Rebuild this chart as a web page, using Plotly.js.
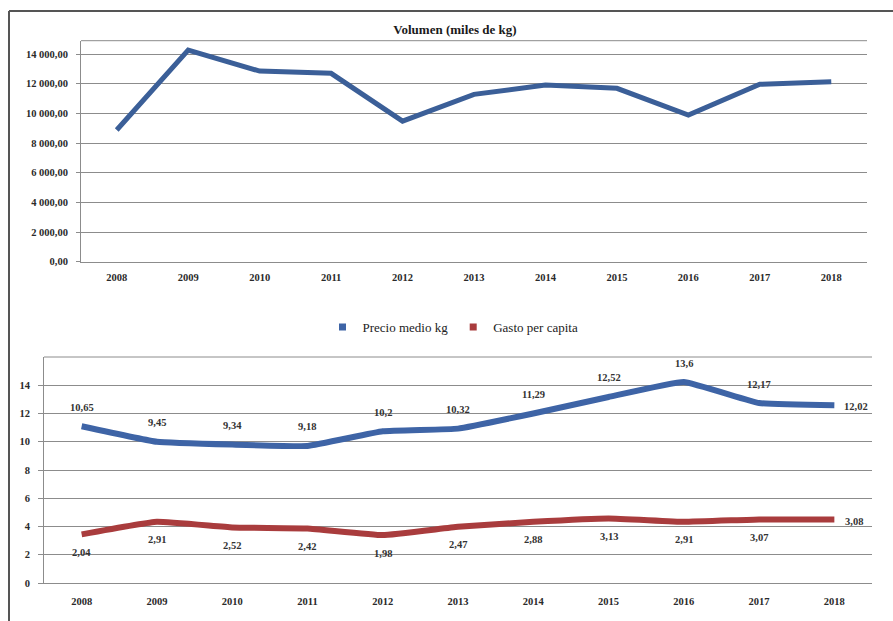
<!DOCTYPE html>
<html>
<head>
<meta charset="utf-8">
<script src="https://cdn.plot.ly/plotly-3.0.1.min.js"></script>
<style>
  html, body { margin: 0; padding: 0; background: #ffffff; }
  #chart { width: 893px; height: 621px; }
</style>
</head>
<body>
<div id="chart"></div>
<script>
// ---- Data ----
const years = ['2008','2009','2010','2011','2012','2013','2014','2015','2016','2017','2018'];
const volumen = [8880, 14270, 12850, 12700, 9480, 11280, 11910, 11690, 9890, 11960, 12130];
const precio = [11.1, 10.0, 9.8, 9.7, 10.74, 10.93, 12.0, 13.17, 14.23, 12.74, 12.58];
const gasto = [3.44, 4.33, 3.93, 3.86, 3.39, 3.98, 4.33, 4.57, 4.33, 4.5, 4.5];
const precioLabels = ['10,65','9,45','9,34','9,18','10,2','10,32','11,29','12,52','13,6','12,17','12,02'];
const gastoLabels = ['2,04','2,91','2,52','2,42','1,98','2,47','2,88','3,13','2,91','3,07','3,08'];
const volTicks = [0, 2000, 4000, 6000, 8000, 10000, 12000, 14000];
const bottomTicks = [0, 2, 4, 6, 8, 10, 12, 14];
const titleTop = 'Volumen (miles de kg)';
const seriesNames = ['Precio medio kg', 'Gasto per capita'];

// ---- Styles ----
const W = 893, H = 621;
const serif = 'Liberation Serif, Times New Roman, serif';
const blueTop = '#3b5f98';
const blue = '#3e64a6';
const red = '#a93c3d';
const grid = '#8c8c8c';
const px = v => v / W;
const py = v => 1 - v / H;

const traces = [
  { type: 'scatter', mode: 'lines', x: years, y: volumen, xaxis: 'x', yaxis: 'y',
    line: { color: blueTop, width: 5 }, showlegend: false, hoverinfo: 'skip' },
  { type: 'scatter', mode: 'lines', x: years, y: precio, xaxis: 'x2', yaxis: 'y2',
    line: { color: blue, width: 6, shape: 'spline', smoothing: 0.3 }, showlegend: false, hoverinfo: 'skip' },
  { type: 'scatter', mode: 'lines', x: years, y: gasto, xaxis: 'x2', yaxis: 'y2',
    line: { color: red, width: 6, shape: 'spline', smoothing: 0.3 }, showlegend: false, hoverinfo: 'skip' },
  { type: 'scatter', mode: 'markers', x: [null], y: [null], xaxis: 'x2', yaxis: 'y2', name: seriesNames[0],
    marker: { symbol: 'square', size: 7, color: blue } },
  { type: 'scatter', mode: 'markers', x: [null], y: [null], xaxis: 'x2', yaxis: 'y2', name: seriesNames[1],
    marker: { symbol: 'square', size: 7, color: red } }
];

const annotations = [];
for (let i = 0; i < years.length; i++) {
  const last = i === years.length - 1;
  annotations.push({ x: i, y: precio[i], xref: 'x2', yref: 'y2', text: '<b>' + precioLabels[i] + '</b>',
    showarrow: false, font: { family: serif, size: 10.5, color: '#333333' },
    xshift: last ? 22 : 0, yshift: last ? -1 : 19 });
  annotations.push({ x: i, y: gasto[i], xref: 'x2', yref: 'y2', text: '<b>' + gastoLabels[i] + '</b>',
    showarrow: false, font: { family: serif, size: 10.5, color: '#333333' },
    xshift: last ? 20 : 0, yshift: last ? -2 : -18 });
}

const tickFont = { family: serif, size: 10.5, color: '#2a2a2a', weight: 'bold' };

const layout = {
  width: W, height: H,
  margin: { l: 0, r: 0, t: 0, b: 0 },
  paper_bgcolor: '#ffffff', plot_bgcolor: '#ffffff',
  separators: ', ',
  font: { family: serif, color: '#222' },
  title: { text: '<b>' + titleTop + '</b>', x: px(455), y: py(29), xanchor: 'center', yanchor: 'middle',
    xref: 'paper', yref: 'container', font: { family: serif, size: 13, color: '#1a1a1a' } },
  showlegend: true,
  legend: { orientation: 'h', x: px(453), y: py(327), xanchor: 'center', yanchor: 'middle',
    itemwidth: 30, font: { family: serif, size: 13, color: '#222' }, bgcolor: 'rgba(0,0,0,0)' },
  xaxis: { domain: [px(81), px(867)], anchor: 'y', type: 'category', range: [-0.5, 10.5],
    showgrid: false, showline: true, linecolor: grid, linewidth: 1, ticks: '',
    tickfont: tickFont, ticklabelstandoff: 6, fixedrange: true },
  yaxis: { domain: [py(261.7), py(40.7)], anchor: 'x', range: [0, 14900], tickvals: volTicks,
    tickformat: ',.2f', showgrid: true, gridcolor: grid, gridwidth: 1, zeroline: false,
    showline: true, linecolor: grid, linewidth: 1, ticks: 'outside', ticklen: 4, tickcolor: grid,
    tickfont: tickFont, ticklabelstandoff: 6, fixedrange: true },
  xaxis2: { domain: [px(44), px(872)], anchor: 'y2', type: 'category', range: [-0.5, 10.5],
    showgrid: false, showline: true, linecolor: grid, linewidth: 1, ticks: '',
    tickfont: tickFont, ticklabelstandoff: 8, fixedrange: true },
  yaxis2: { domain: [py(583), py(357)], anchor: 'x2', range: [0, 16], tickvals: bottomTicks,
    showgrid: true, gridcolor: grid, gridwidth: 1, zeroline: false,
    showline: true, linecolor: grid, linewidth: 1, ticks: 'outside', ticklen: 5, tickcolor: grid,
    tickfont: tickFont, ticklabelstandoff: 6, fixedrange: true },
  annotations: annotations,
  shapes: [
    { type: 'line', xref: 'paper', yref: 'paper', x0: px(9), x1: px(893), y0: py(11), y1: py(11),
      line: { color: '#555555', width: 2 } },
    { type: 'line', xref: 'paper', yref: 'paper', x0: px(9), x1: px(9), y0: py(11), y1: py(621),
      line: { color: '#555555', width: 2 } },
    { type: 'line', xref: 'paper', yref: 'paper', x0: px(81), x1: px(867), y0: py(40.7), y1: py(40.7),
      line: { color: grid, width: 1 } },
    { type: 'line', xref: 'paper', yref: 'paper', x0: px(44), x1: px(872), y0: py(357), y1: py(357),
      line: { color: grid, width: 1 } }
  ]
};

Plotly.newPlot('chart', traces, layout, { staticPlot: true, displayModeBar: false });
</script>
</body>
</html>
